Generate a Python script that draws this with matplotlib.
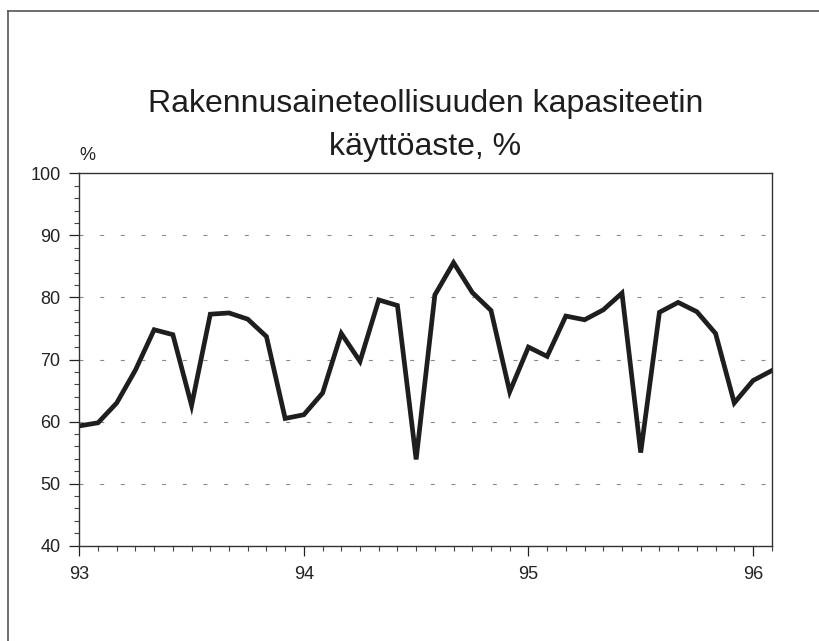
import numpy as np
import matplotlib
matplotlib.use("Agg")
import matplotlib.pyplot as plt
from matplotlib.lines import Line2D
from matplotlib.ticker import MultipleLocator

# monthly capacity utilisation, Jan 93 .. Feb 96
kaytto = [59.3, 59.8, 63.0, 68.3, 74.8, 74.0, 62.6, 77.3, 77.5, 76.5, 73.7, 60.5,
          61.1, 64.6, 74.2, 69.7, 79.6, 78.7, 53.9, 80.4, 85.6, 80.8, 77.9, 64.8,
          72.0, 70.5, 77.0, 76.4, 78.0, 80.7, 55.0, 77.6, 79.2, 77.7, 74.2, 63.0,
          66.6, 68.2]
vuodet = ["93", "94", "95", "96"]
otsikko1 = "Rakennusaineteollisuuden kapasiteetin"
otsikko2 = "käyttöaste, %"

plt.rcParams['font.family'] = ['Liberation Sans', 'DejaVu Sans']

fig = plt.figure(figsize=(8.2, 6.41), dpi=100)
W, H = 820, 641
ax = fig.add_axes([79.3 / W, 1 - 545.7 / H, (771.7 - 79.3) / W, (545.7 - 173.3) / H])

kk = np.arange(len(kaytto))
ax.plot(kk, kaytto, color="#1e1e1e", lw=3.4, solid_joinstyle="miter")

ax.set_xlim(0, len(kaytto) - 1)
ax.set_ylim(40, 100)

ax.set_xticks(np.arange(0, 12 * len(vuodet), 12))
ax.set_xticklabels(vuodet)
ax.xaxis.set_minor_locator(MultipleLocator(1))
ax.set_yticks(np.arange(40, 101, 10))
ax.yaxis.set_minor_locator(MultipleLocator(2))

ax.tick_params(axis="both", which="major", direction="out", length=7.5, width=0.9,
               labelsize=13, colors="#222222")
ax.tick_params(axis="x", which="major", pad=7)
ax.tick_params(axis="y", which="major", pad=6)
ax.tick_params(axis="both", which="minor", direction="out", length=3.5, width=0.8,
               colors="#444444")

for s in ax.spines.values():
    s.set_color("#333333")
    s.set_linewidth(1.0)

for yv in range(50, 100, 10):
    ax.axhline(yv, color="#8a8a8a", lw=0.8, dashes=(3.6, 15), zorder=0)

ax.text(0.0, 1.025, "%", transform=ax.transAxes, fontsize=13, color="#222222",
        ha="left", va="bottom")

cx = (79.3 + 771.7) / 2 / W
fig.text(cx, 1 - 112 / H, otsikko1, ha="center", va="baseline", fontsize=23,
         color="#1e1e1e")
fig.text(cx, 1 - 155 / H, otsikko2, ha="center", va="baseline", fontsize=23,
         color="#1e1e1e")

# scanned page border (top and left)
fig.add_artist(Line2D([8 / W, 1], [1 - 11 / H, 1 - 11 / H], transform=fig.transFigure,
                      color="#555555", lw=1.2))
fig.add_artist(Line2D([8 / W, 8 / W], [0, 1 - 11 / H], transform=fig.transFigure,
                      color="#555555", lw=1.2))

fig.savefig("out.png", dpi=100)
